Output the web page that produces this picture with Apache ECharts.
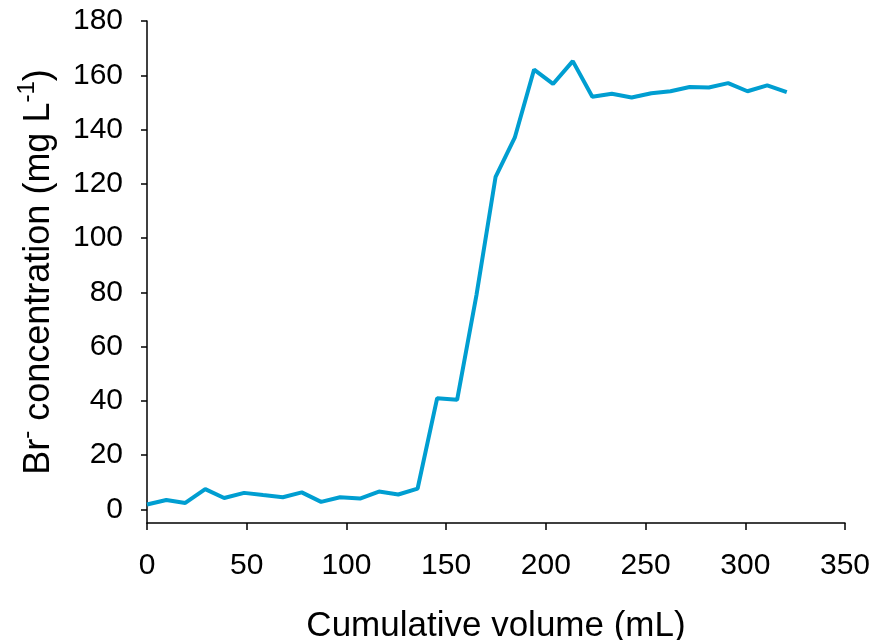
<!DOCTYPE html>
<html>
<head>
<meta charset="utf-8">
<script src="https://cdn.jsdelivr.net/npm/echarts@6/dist/echarts.min.js"></script>
<style>
  html, body { margin: 0; padding: 0; background: #fff; }
  #chart { width: 870px; height: 640px; }
</style>
</head>
<body>
<div id="chart"></div>
<script>
// cumulative volume (mL) and bromide concentration (mg/L)
const volume = [0, 9.7, 19.2, 29.2, 38.7, 48.7, 58.2, 68.1, 77.6, 87.3, 96.8, 106.8, 116.3, 126.0, 135.7,
  145.5, 155.5, 165.2, 174.8, 184.4, 194.1, 203.6, 213.5, 223.3, 233.1, 243.0, 252.9, 262.5,
  272.1, 281.7, 291.4, 301.1, 311.0, 320.8]
const bromide = [1.8, 3.5, 2.4, 7.5, 4.2, 6.1, 5.3, 4.5, 6.3, 2.8, 4.5, 4.0, 6.6, 5.5, 7.7,
  41.0, 40.4, 79.0, 122.6, 137.0, 162.1, 156.8, 165.2, 152.1, 153.2, 151.8, 153.4, 154.1,
  155.7, 155.5, 157.1, 154.1, 156.3, 153.8]
const yTicks = [0, 20, 40, 60, 80, 100, 120, 140, 160, 180]

const font = '"Liberation Sans", Arial, sans-serif'

const chart = echarts.init(document.getElementById('chart'))

chart.setOption({
  animation: false,
  textStyle: { fontFamily: font, color: '#000' },
  grid: { left: 147, right: 25, top: 21, bottom: 117, containLabel: false, outerBoundsMode: 'none' },
  xAxis: {
    type: 'value',
    min: 0,
    max: 350,
    interval: 50,
    name: 'Cumulative volume (mL)',
    nameLocation: 'middle',
    nameGap: 86,
    nameTextStyle: { fontSize: 35, color: '#000', fontFamily: font },
    axisLine: { onZero: false, lineStyle: { color: '#000', width: 1.5 } },
    axisTick: { length: 7, lineStyle: { color: '#000', width: 1.5 } },
    axisLabel: { fontSize: 30, color: '#000', margin: 28, fontFamily: font },
    splitLine: { show: false }
  },
  yAxis: {
    type: 'value',
    min: -5,
    max: 180,
    name: '{n|Br}{s|-}{n| concentration (mg L}{s|-1}{n|)}',
    nameLocation: 'middle',
    nameRotate: 90,
    nameGap: 90,
    nameTextStyle: {
      fontFamily: font,
      rich: {
        n: { fontSize: 36, color: '#000', fontFamily: font, lineHeight: 42, verticalAlign: 'bottom' },
        s: { fontSize: 24, color: '#000', fontFamily: font, lineHeight: 42, verticalAlign: 'top' }
      }
    },
    axisLine: { lineStyle: { color: '#000', width: 1.5 } },
    axisTick: { length: 6, customValues: yTicks, lineStyle: { color: '#000', width: 1.5 } },
    axisLabel: { fontSize: 30, color: '#000', margin: 24, customValues: yTicks, fontFamily: font },
    splitLine: { show: false }
  },
  series: [{
    type: 'line',
    data: volume.map((v, i) => [v, bromide[i]]),
    showSymbol: false,
    symbol: 'none',
    lineStyle: { color: '#009ed1', width: 4 },
    itemStyle: { color: '#009ed1' }
  }]
})
</script>
</body>
</html>
